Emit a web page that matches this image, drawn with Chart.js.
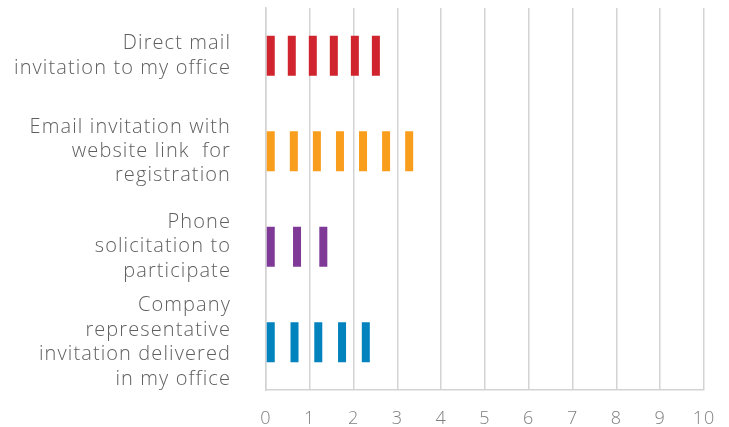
<!DOCTYPE html>
<html>
<head>
<meta charset="utf-8">
<script src="https://cdn.jsdelivr.net/npm/chart.js@4.4.1/dist/chart.umd.min.js"></script>
<style>
  html, body { margin: 0; padding: 0; background: #fff; }
  #wrap { width: 729px; height: 427px; }
</style>
</head>
<body>
<div id="wrap"><canvas id="myBarChart"></canvas></div>
<script>
// 数据
var categories = [
    ['Direct mail', 'invitation to my office'],
    ['Email invitation with', 'website link  for', 'registration'],
    ['Phone', 'solicitation to', 'participate'],
    ['Company', 'representative', 'invitation delivered', 'in my office']
];
var values = [2.6, 3.36, 1.4, 2.37];
var dashCounts = [6, 7, 3, 5];
var xTicks = [0, 1, 2, 3, 4, 5, 6, 7, 8, 9, 10];
var barColors = ['#d0252f', '#f99d1c', '#7f3a98', '#0283be'];

// 字体稍微拉宽一点
var spacingPlugin = {
    id: 'letterSpacing',
    beforeUpdate: function (chart) { chart.ctx.letterSpacing = '1.1px'; },
    beforeDraw: function (chart) { chart.ctx.letterSpacing = '1.1px'; }
};

// 把每根条形画成一排小矩形
var dashPlugin = {
    id: 'dashBars',
    afterDatasetsDraw: function (chart) {
        var ctx = chart.ctx;
        var meta = chart.getDatasetMeta(0);
        meta.data.forEach(function (bar, i) {
            var p = bar.getProps(['x', 'y', 'base', 'height'], true);
            var n = dashCounts[i];
            var w = 8;
            var step = n > 1 ? (p.x - p.base - w) / (n - 1) : 0;
            ctx.save();
            ctx.fillStyle = barColors[i];
            for (var k = 0; k < n; k++) {
                ctx.fillRect(p.base + k * step, p.y - p.height / 2, w, p.height);
            }
            ctx.restore();
        });
    }
};

var ctx = document.getElementById('myBarChart').getContext('2d');
var myBarChart = new Chart(ctx, {
    type: 'bar',
    data: {
        labels: categories,
        datasets: [{
            data: values,
            backgroundColor: 'rgba(0,0,0,0)',
            borderWidth: 0,
            barThickness: 40
        }]
    },
    options: {
        indexAxis: 'y',
        responsive: true,
        maintainAspectRatio: false,
        animation: false,
        layout: { padding: { top: 8, right: 25, bottom: 0, left: 0 } },
        plugins: {
            legend: { display: false },
            tooltip: { enabled: false }
        },
        scales: {
            x: {
                min: 0,
                max: 10,
                afterBuildTicks: function (axis) {
                    axis.ticks = xTicks.map(function (v) { return { value: v }; });
                },
                afterFit: function (axis) {
                    axis.height = 37;
                    axis.paddingLeft = 0;
                    axis.paddingRight = 0;
                },
                grid: { color: '#d3d3d3', lineWidth: 1.5, drawTicks: false },
                border: { color: '#d3d3d3', width: 1.5 },
                ticks: {
                    padding: 18,
                    color: '#808080',
                    font: { family: 'Open Sans', size: 18, weight: 300 }
                }
            },
            y: {
                afterFit: function (axis) {
                    axis.width = 266;
                    axis.paddingTop = 0;
                    axis.paddingBottom = 0;
                },
                grid: { display: false, drawTicks: false },
                border: { display: true, color: '#d3d3d3', width: 1.5 },
                ticks: {
                    autoSkip: false,
                    padding: 35,
                    color: '#5f5f5f',
                    font: { family: 'Open Sans', size: 20, weight: 300, lineHeight: 1.22 }
                }
            }
        }
    },
    plugins: [spacingPlugin, dashPlugin]
});
</script>
</body>
</html>
